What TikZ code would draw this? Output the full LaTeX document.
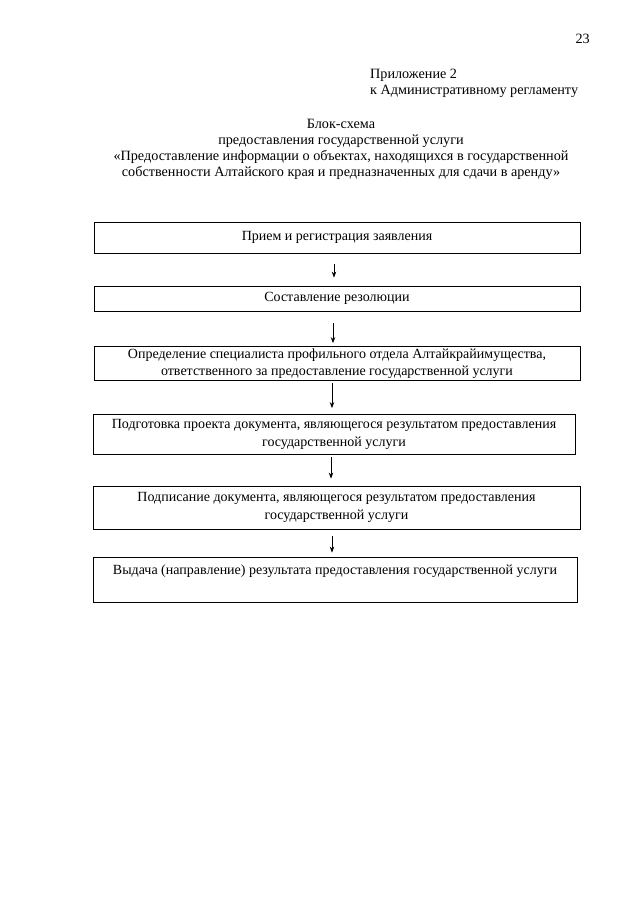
\documentclass[tikz,border=0pt]{standalone}
\usepackage{fontspec}
\setmainfont{Liberation Serif}
\usetikzlibrary{arrows.meta}
\begin{document}
\begin{tikzpicture}[x=1pt,y=-1pt,
  txt/.style={inner sep=0pt, font=\fontsize{14.2}{16}\selectfont},
  box/.style={draw, line width=0.8pt, inner sep=0pt, align=center, font=\fontsize{14}{17.5}\selectfont},
  arr/.style={-{Stealth[length=6pt,width=4.5pt]}, line width=0.8pt}]
\useasboundingbox (0,0) rectangle (640,905);
\fill[white] (0,0) rectangle (640,905);
\node[txt, anchor=base east] (pg) at (590,43) {23};
\node[txt, anchor=base west] (ap1) at (370,78) {Приложение 2};
\node[txt, anchor=base west] (ap2) at (370,94) {к Административному регламенту};
\node[txt, anchor=base] (t1) at (341,128) {Блок-схема};
\node[txt, anchor=base] (t2) at (341,144) {предоставления государственной услуги};
\node[txt, anchor=base] (t3) at (341,160) {«Предоставление информации о объектах, находящихся в государственной};
\node[txt, anchor=base] (t4) at (341,176) {собственности Алтайского края и предназначенных для сдачи в аренду»};
\node[box, minimum width=486pt, minimum height=31pt] (b1) at (337,237.5) {Прием и регистрация заявления};
\node[box, minimum width=486pt, minimum height=25pt] (b2) at (337,298.5) {Составление резолюции};
\node[box, minimum width=486pt, minimum height=34pt] (b3) at (337,363.5) {Определение специалиста профильного отдела Алтайкрайимущества,\\ответственного за предоставление государственной услуги};
\node[box, minimum width=482pt, minimum height=40pt] (b4) at (334,434.5) {Подготовка проекта документа, являющегося результатом предоставления\\государственной услуги};
\node[box, minimum width=487pt, minimum height=43pt] (b5) at (336.5,507.5) {Подписание документа, являющегося результатом предоставления\\государственной услуги};
\node[box, minimum width=484pt, minimum height=45pt, text height=17pt, text depth=28pt] (b6) at (335,579.5) {Выдача (направление) результата предоставления государственной услуги};
\draw[arr] ([xshift=-3pt,yshift=-11pt]b1.south) -- ([xshift=-3pt,yshift=8pt]b2.north);
\draw[arr] ([xshift=-4pt,yshift=-12pt]b2.south) -- ([xshift=-4pt,yshift=3pt]b3.north);
\draw[arr] ([xshift=-5pt,yshift=-2pt]b3.south) -- ([xshift=-2pt,yshift=6pt]b4.north);
\draw[arr] ([xshift=-3pt,yshift=-2pt]b4.south) -- ([xshift=-5.5pt,yshift=7pt]b5.north);
\draw[arr] ([xshift=-4.5pt,yshift=-7pt]b5.south) -- ([xshift=-3pt,yshift=4pt]b6.north);
\end{tikzpicture}
\end{document}
